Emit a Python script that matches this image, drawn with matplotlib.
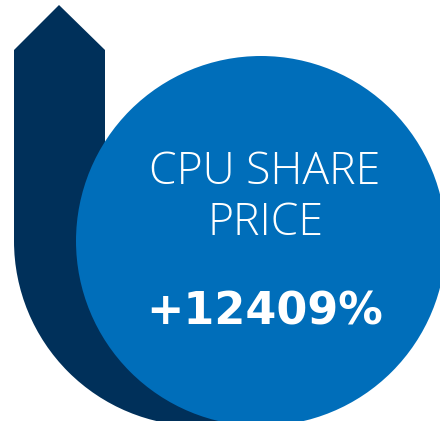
import matplotlib
matplotlib.use("Agg")
import matplotlib.pyplot as plt
from matplotlib.patches import Polygon, Wedge, Circle

# data
title_lines = ["CPU SHARE", "PRICE"]
change_pct = 12409

W, H = 440, 421
dark = "#00305A"
blue = "#006EBA"

fig = plt.figure(figsize=(W / 100, H / 100), dpi=100)
ax = fig.add_axes([0, 0, 1, 1])
ax.set_xlim(0, W)
ax.set_ylim(0, H)
ax.axis("off")

# arrow shaft + head
shaft = [(14, 180), (14, 371), (59, 416), (105, 371), (105, 180)]
ax.add_patch(Polygon(shaft, closed=True, color=dark, lw=0))
# curved base of the arrow
ax.add_patch(Wedge((199, 180), 185, 180, 360, color=dark, lw=0))
# big circle
ax.add_patch(Circle((261, 180), 185, color=blue, lw=0))

ax.text(265, 248, title_lines[0], ha="center", va="center", color="white",
        fontsize=32, family="Open Sans", fontweight=300)
ax.text(266, 197, title_lines[1], ha="center", va="center", color="white",
        fontsize=32, family="Open Sans", fontweight=300)
ax.text(265, 109, "+{}%".format(change_pct), ha="center", va="center",
        color="white", fontsize=32, family="DejaVu Sans", fontweight="bold")

fig.savefig("out.png", dpi=100)
